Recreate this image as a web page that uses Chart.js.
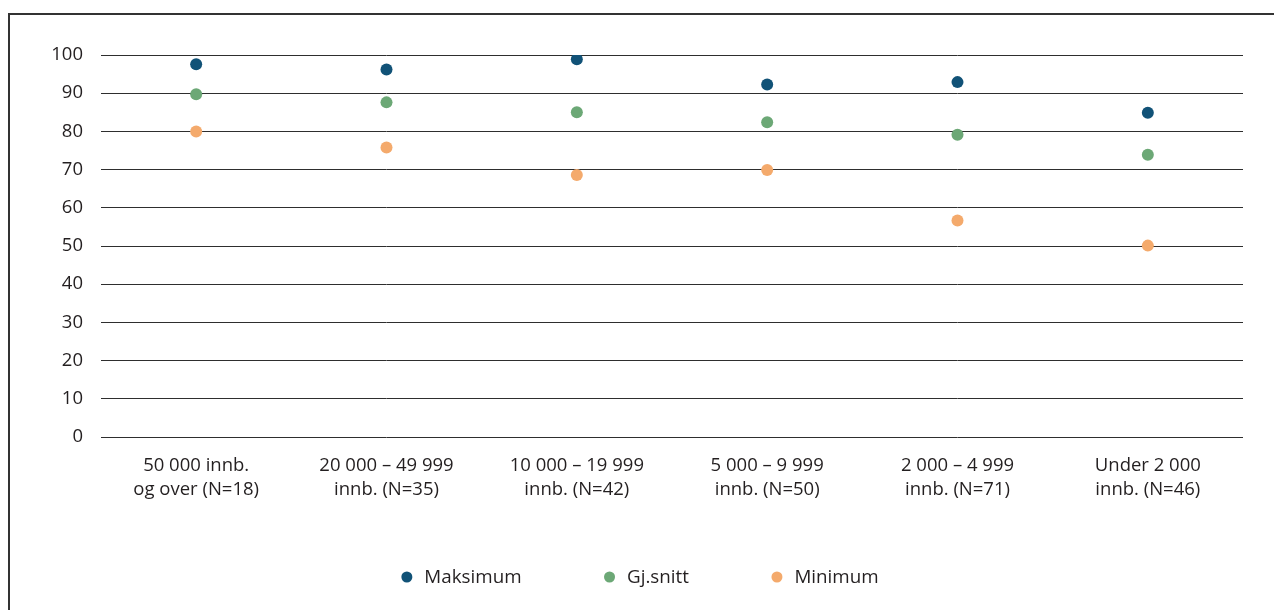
<!DOCTYPE html>
<html>
<head>
<meta charset="utf-8">
<script src="https://cdn.jsdelivr.net/npm/chart.js@4/dist/chart.umd.min.js"></script>
<style>
  html, body { margin: 0; padding: 0; background: #fff; }
  #wrap { position: relative; width: 1274px; height: 610px; overflow: hidden; }
  #frame { position: absolute; left: 8px; top: 13px; width: 1300px; height: 700px;
           border-left: 2px solid #333; border-top: 2px solid #333; box-sizing: border-box; }
  canvas { position: absolute; left: 0; top: 0; }
</style>
</head>
<body>
<div id="wrap">
  <div id="frame"></div>
  <canvas id="c" width="1274" height="610"></canvas>
</div>
<script>
// Kommunestørrelse (antall innbyggere)
const categories = [
  ['50 000 innb.', 'og over (N=18)'],
  ['20 000 – 49 999', 'innb. (N=35)'],
  ['10 000 – 19 999', 'innb. (N=42)'],
  ['5 000 – 9 999', 'innb. (N=50)'],
  ['2 000 – 4 999', 'innb. (N=71)'],
  ['Under 2 000', 'innb. (N=46)']
];
const maksimum = [97.6, 96.2, 98.9, 92.3, 92.9, 84.9];
const gjSnitt  = [89.7, 87.6, 85.0, 82.4, 79.1, 73.9];
const minimum  = [80.0, 75.8, 68.6, 69.9, 56.7, 50.1];
const yTicks   = [0, 10, 20, 30, 40, 50, 60, 70, 80, 90, 100];

const FONT = '"Open Sans", "Noto Sans", sans-serif';
const TEXT = '#231f20';

// Legend drawn as a single centred row under the axis labels
const rowLegend = {
  id: 'rowLegend',
  afterDraw(chart) {
    const ctx = chart.ctx;
    const size = 18.8, r = 5.5, toText = 17.5, gap = 88, cy = 577;
    ctx.save();
    ctx.font = size + 'px ' + FONT;
    const items = chart.data.datasets.map(ds => ({
      label: ds.label, color: ds.backgroundColor, w: ctx.measureText(ds.label).width
    }));
    const total = items.reduce((s, it) => s + toText + it.w, 0) + gap * (items.length - 1) + r;
    let x = 640 - total / 2 + r;
    items.forEach(it => {
      ctx.beginPath();
      ctx.arc(x, cy, r, 0, Math.PI * 2);
      ctx.fillStyle = it.color;
      ctx.fill();
      ctx.fillStyle = TEXT;
      ctx.textBaseline = 'middle';
      ctx.textAlign = 'left';
      ctx.fillText(it.label, x + toText, cy + 1);
      x += toText + it.w + gap;
    });
    ctx.restore();
  }
};

const mk = (label, data, color) => ({
  label, data,
  backgroundColor: color, borderColor: color,
  showLine: false, pointRadius: 6, pointHoverRadius: 6, pointBorderWidth: 0
});

new Chart(document.getElementById('c'), {
  type: 'line',
  data: {
    labels: categories,
    datasets: [
      mk('Maksimum', maksimum, '#115277'),
      mk('Gj.snitt', gjSnitt, '#6ca876'),
      mk('Minimum', minimum, '#f4aa6c')
    ]
  },
  options: {
    responsive: false,
    devicePixelRatio: 1,
    animation: false,
    events: [],
    layout: { padding: { top: 55, right: 31, bottom: 0, left: 0 } },
    plugins: { legend: { display: false }, tooltip: { enabled: false } },
    scales: {
      x: {
        type: 'category',
        offset: true,
        grid: { display: false },
        border: { display: false },
        ticks: {
          color: TEXT, padding: 9, maxRotation: 0, autoSkip: false,
          font: { family: FONT, size: 18.5, lineHeight: 1.3 }
        },
        afterFit(scale) { scale.height = 173; }
      },
      y: {
        min: 0, max: 100,
        afterBuildTicks(scale) { scale.ticks = yTicks.map(v => ({ value: v })); },
        grid: { color: '#2e2e2e', lineWidth: 1, drawTicks: false },
        border: { display: false },
        ticks: { color: TEXT, padding: 18, font: { family: FONT, size: 18.5 } },
        afterFit(scale) { scale.width = 101; }
      }
    }
  },
  plugins: [rowLegend]
});
</script>
</body>
</html>
